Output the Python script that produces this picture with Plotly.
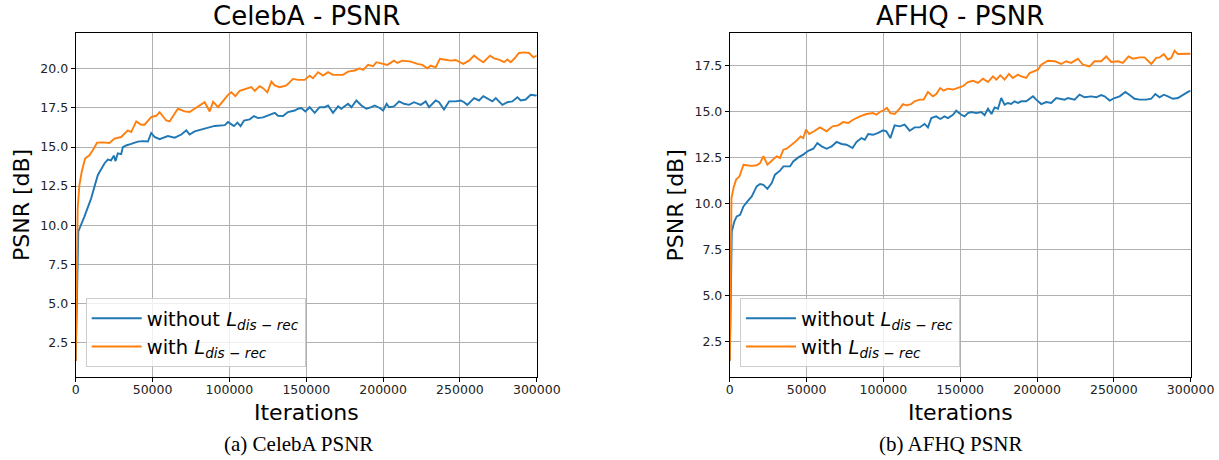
import plotly.graph_objects as go

# ---------------- data ----------------
celeba_without_x = [0, 1700, 5650, 10000, 14350, 18700, 20900, 23000, 24800, 25900, 27400, 29600,
                    30700, 32800, 36100, 40400, 43700, 47000, 49100, 51300, 54600, 60000, 64400,
                    68700, 72000, 74100, 77400, 83900, 90400, 97000, 99100, 101300, 103000, 105200,
                    107300, 109500, 113200, 116000, 118600, 121900, 125100, 129500, 131600, 134900,
                    138100, 142500, 144700, 146800, 149400, 152200, 155500, 158700, 162000, 164200,
                    167400, 170700, 172800, 177200, 179400, 182600, 185900, 189100, 192400, 194500,
                    197800, 200000, 202300, 203900, 207100, 210400, 213600, 216900, 220100, 224500,
                    227700, 229900, 234200, 236400, 239600, 242900, 247200, 250500, 252700, 254800,
                    259200, 262400, 265200, 267800, 271100, 273300, 277600, 280900, 284100, 287400,
                    289500, 292800, 296000, 299300, 300000]
celeba_without_y = [1.3, 9.6, 10.55, 11.7, 13.2, 13.95, 14.2, 14.15, 14.45, 14.1, 14.6, 14.55,
                    15.0, 15.1, 15.2, 15.35, 15.38, 15.35, 15.9, 15.65, 15.5, 15.7, 15.6,
                    15.8, 16.07, 15.8, 16.0, 16.2, 16.35, 16.4, 16.6, 16.45, 16.34, 16.56,
                    16.34, 16.7, 16.77, 16.98, 16.85, 16.9, 17.02, 17.19, 17.0, 16.98,
                    17.24, 17.34, 17.45, 17.5, 17.28, 17.55, 17.19, 17.55, 17.55, 17.66,
                    17.19, 17.6, 17.45, 17.77, 17.55, 17.98, 17.66, 17.45, 17.55, 17.66,
                    17.5, 17.34, 17.77, 17.55, 17.6, 17.92, 17.77, 17.7, 17.87, 17.7,
                    17.92, 17.55, 17.98, 17.87, 17.4, 17.92, 17.92, 17.98, 17.87, 17.7,
                    18.13, 17.98, 18.26, 18.09, 17.92, 18.13, 17.7, 17.87, 17.92, 18.19,
                    17.98, 18.04, 18.34, 18.3, 18.32]

celeba_with_x = [0, 1300, 2400, 3900, 6100, 8900, 11100, 13900, 17600, 22000, 25200, 29600,
                 33900, 36100, 39400, 42600, 44800, 49100, 52400, 54600, 58900, 61100, 66500,
                 70900, 74100, 78500, 83900, 87200, 89400, 92600, 99100, 101300, 103900, 106700,
                 111000, 114300, 116500, 119700, 121900, 124700, 127300, 129500, 132700, 137100,
                 141400, 144700, 149000, 152200, 154400, 157700, 160900, 164200, 167400, 170700,
                 173900, 177200, 181500, 184800, 187000, 190200, 193500, 195600, 198900, 200600,
                 202800, 207100, 209300, 212500, 218000, 222300, 225500, 228800, 231000, 234200,
                 237000, 239600, 244000, 247200, 249400, 252200, 255900, 259200, 262400, 265200,
                 269600, 272200, 275400, 278700, 280900, 283000, 285600, 288400, 291700, 295000,
                 297800, 300000]
celeba_with_y = [1.3, 11.07, 12.56, 13.4, 14.26, 14.47, 14.8, 15.28, 15.3, 15.26, 15.54, 15.64,
                 16.07, 15.96, 16.64, 16.43, 16.43, 16.92, 17.0, 17.23, 16.7, 16.64, 17.45,
                 17.28, 17.24, 17.5, 17.87, 17.28, 17.9, 17.55, 18.34, 18.5, 18.26, 18.6,
                 18.72, 18.83, 18.6, 18.9, 18.77, 18.5, 19.19, 18.94, 18.83, 18.94,
                 19.36, 19.3, 19.3, 19.57, 19.4, 19.79, 19.57, 19.79, 19.62, 19.64,
                 19.62, 19.83, 19.9, 20.04, 19.94, 20.26, 20.17, 20.43, 20.36, 20.32,
                 20.26, 20.53, 20.38, 20.53, 20.47, 20.32, 20.26, 20.04, 20.21, 20.1,
                 20.64, 20.6, 20.53, 20.57, 20.47, 20.32, 20.53, 20.85, 20.6, 20.43,
                 20.85, 20.68, 20.6, 20.43, 20.6, 20.43, 20.68, 21.02, 21.06, 21.02,
                 20.74, 20.85]

afhq_without_x = [0, 1300, 3000, 4500, 6700, 8900, 11500, 14300, 17500, 19700, 21900, 24500,
                  27300, 29400, 32700, 34900, 39200, 41300, 44600, 47800, 51100, 54400, 57000,
                  59800, 63000, 66300, 69500, 72800, 76000, 79900, 82500, 85700, 87900, 90100,
                  93300, 96600, 99800, 101900, 104500, 107300, 110600, 113800, 117100, 120300,
                  123600, 126800, 129000, 131200, 134400, 137000, 139800, 142000, 145300, 147400,
                  150700, 152900, 155000, 157200, 160500, 163700, 165900, 168100, 170400, 172400,
                  174600, 176700, 178900, 181100, 183200, 185400, 187600, 189800, 193000, 195200,
                  197400, 199500, 200600, 202800, 206000, 209300, 212500, 215800, 218000, 220100,
                  224500, 227700, 231000, 235300, 238600, 241800, 244000, 247300, 250500, 253800,
                  257500, 260300, 263500, 266800, 271100, 274400, 277000, 279800, 282600, 285200,
                  288500, 291700, 295000, 298300, 300000]
afhq_without_y = [1.45, 8.48, 9.03, 9.3, 9.39, 9.84, 10.12, 10.39, 10.93, 11.06, 11.02, 10.8,
                  11.11, 11.57, 11.79, 12.02, 12.02, 12.29, 12.51, 12.66, 12.87, 12.98, 13.29,
                  13.11, 12.98, 13.11, 13.35, 13.24, 13.2, 13.02, 13.35, 13.56, 13.47, 13.78,
                  13.74, 13.84, 13.98, 13.93, 13.56, 14.25, 14.2, 14.29, 13.96, 14.14,
                  14.14, 14.33, 14.14, 14.65, 14.74, 14.6, 14.74, 14.65, 14.83, 15.05,
                  14.83, 14.74, 14.92, 14.98, 14.92, 14.98, 14.8, 15.16, 14.87, 15.23,
                  15.16, 15.74, 15.38, 15.47, 15.42, 15.56, 15.47, 15.56, 15.56, 15.7,
                  15.83, 15.65, 15.56, 15.41, 15.52, 15.47, 15.74, 15.7, 15.65, 15.74,
                  15.65, 15.92, 15.78, 15.83, 15.78, 15.9, 15.83, 15.6, 15.74, 15.83,
                  16.07, 15.9, 15.7, 15.65, 15.65, 15.7, 15.96, 15.78, 15.92, 15.83,
                  15.7, 15.74, 15.92, 16.07, 16.14]

afhq_with_x = [0, 1100, 2400, 4100, 6300, 8900, 11000, 14300, 17500, 19700, 21900, 24500,
               27300, 30500, 32700, 34900, 37000, 40300, 43500, 46100, 47800, 49600, 51700,
               54800, 58700, 63000, 66900, 70600, 73800, 77100, 80300, 84700, 89000, 93300,
               95500, 97600, 99700, 102300, 104500, 107300, 110600, 112700, 114900, 118100,
               120300, 123600, 126200, 129000, 132300, 134400, 137000, 139200, 142000, 145300,
               148500, 151800, 155000, 158300, 161500, 164800, 168100, 171300, 173500, 176100,
               178900, 181700, 184300, 187600, 189800, 193000, 195200, 198400, 200600, 202800,
               207100, 211500, 215800, 219000, 222300, 226600, 229900, 234200, 237500, 241800,
               245100, 248300, 252700, 255900, 259600, 262400, 266800, 270000, 274400, 277600,
               279800, 282600, 285200, 287400, 289600, 291700, 296100, 300000]
afhq_with_y = [1.45, 10.3, 10.84, 11.3, 11.48, 12.11, 12.08, 12.05, 12.08, 12.2, 12.57, 12.11,
               12.33, 12.57, 12.48, 12.93, 12.98, 13.2, 13.42, 13.65, 13.56, 14.02, 13.78,
               13.93, 14.14, 13.93, 14.2, 14.25, 14.43, 14.38, 14.56, 14.74, 14.87, 14.92,
               14.83, 14.98, 15.05, 15.2, 14.92, 14.87, 15.16, 15.41, 15.34, 15.41,
               15.56, 15.65, 15.65, 16.07, 15.83, 15.96, 16.28, 16.14, 16.25, 16.2,
               16.28, 16.38, 16.61, 16.68, 16.56, 16.79, 16.61, 16.92, 16.74, 16.97,
               16.74, 17.05, 16.83, 17.01, 16.92, 16.83, 17.1, 17.23, 17.28, 17.55,
               17.77, 17.74, 17.59, 17.74, 17.65, 17.88, 17.55, 17.46, 17.74, 17.74,
               18.0, 17.7, 17.74, 17.65, 18.0, 17.88, 17.95, 17.95, 17.59, 17.92,
               17.95, 18.13, 17.83, 17.92, 18.32, 18.13, 18.13, 18.15]

x_tick_vals = [0, 50000, 100000, 150000, 200000, 250000, 300000]
x_tick_text = ["0", "50000", "100000", "150000", "200000", "250000", "300000"]
celeba_y_ticks = [2.5, 5.0, 7.5, 10.0, 12.5, 15.0, 17.5, 20.0]
afhq_y_ticks = [2.5, 5.0, 7.5, 10.0, 12.5, 15.0, 17.5]

titles = ["CelebA - PSNR", "AFHQ - PSNR"]
captions = ["(a) CelebA PSNR", "(b) AFHQ PSNR"]
label_without = "without <i>L</i><sub><i>dis − rec</i></sub>"
label_with = "with <i>L</i><sub><i>dis − rec</i></sub>"

# ---------------- figure ----------------
W, H = 1219, 460
BLUE = "#1f77b4"
ORANGE = "#ff7f0e"
FONT = "DejaVu Sans"

def px(x):
    return x / W

def py(y):
    return 1 - y / H

fig = go.Figure()
lw = 1.9
fig.add_trace(go.Scatter(x=celeba_without_x, y=celeba_without_y, mode="lines", name=label_without,
                         line=dict(color=BLUE, width=lw), xaxis="x", yaxis="y",
                         legend="legend", legendgroup="a"))
fig.add_trace(go.Scatter(x=celeba_with_x, y=celeba_with_y, mode="lines", name=label_with,
                         line=dict(color=ORANGE, width=lw), xaxis="x", yaxis="y",
                         legend="legend", legendgroup="b"))
fig.add_trace(go.Scatter(x=afhq_without_x, y=afhq_without_y, mode="lines", name=label_without,
                         line=dict(color=BLUE, width=lw), xaxis="x2", yaxis="y2",
                         legend="legend2", legendgroup="c"))
fig.add_trace(go.Scatter(x=afhq_with_x, y=afhq_with_y, mode="lines", name=label_with,
                         line=dict(color=ORANGE, width=lw), xaxis="x2", yaxis="y2",
                         legend="legend2", legendgroup="d"))

y_dom = [py(376.7), py(33.3)]
x1_dom = [px(75.7), px(536.8)]
x2_dom = [px(729.8), px(1190.6)]

axis_common = dict(showline=True, mirror=True, linecolor="black", linewidth=1,
                   showgrid=True, gridcolor="#b0b0b0", gridwidth=1, automargin=False,
                   ticks="outside", ticklen=4, tickcolor="black", tickwidth=1,
                   tickfont=dict(family=FONT, size=12.5, color="#222"), zeroline=False)

legend_common = dict(xanchor="left", yanchor="top",
                     bgcolor="rgba(255,255,255,0.8)", bordercolor="#cccccc", borderwidth=1,
                     font=dict(family=FONT, size=19.5, color="black"),
                     tracegroupgap=4, itemwidth=50, traceorder="normal")

fig.update_layout(
    width=W, height=H,
    margin=dict(l=0, r=0, t=0, b=0, pad=0),
    paper_bgcolor="white", plot_bgcolor="white",
    font=dict(family=FONT, color="black"),
    xaxis=dict(domain=x1_dom, range=[0, 300000], anchor="y", tickvals=x_tick_vals,
               ticktext=x_tick_text, ticklabelstandoff=-3, **axis_common),
    yaxis=dict(domain=y_dom, range=[0.30, 22.28], anchor="x", tickvals=celeba_y_ticks,
               tickformat=".1f", **axis_common),
    xaxis2=dict(domain=x2_dom, range=[0, 300000], anchor="y2", tickvals=x_tick_vals,
                ticktext=x_tick_text, ticklabelstandoff=-3, **axis_common),
    yaxis2=dict(domain=y_dom, range=[0.58, 19.26], anchor="x2", tickvals=afhq_y_ticks,
                tickformat=".1f", **axis_common),
    legend=dict(x=px(85.7), y=py(298), **legend_common),
    legend2=dict(x=px(740), y=py(298), **legend_common),
)

centers = [(75.7 + 536.8) / 2, (729.8 + 1190.6) / 2]
ylabel_x = [21, 675.4]
caption_x = [298, 951]
annotations = []
for i in range(2):
    annotations.append(dict(text=titles[i], x=px(centers[i]), y=py(16), xref="paper", yref="paper",
                            xanchor="center", yanchor="middle", showarrow=False,
                            font=dict(family=FONT, size=26, color="black")))
    annotations.append(dict(text="Iterations", x=px(centers[i]), y=py(412), xref="paper", yref="paper",
                            xanchor="center", yanchor="middle", showarrow=False,
                            font=dict(family=FONT, size=22, color="black")))
    annotations.append(dict(text="PSNR [dB]", x=px(ylabel_x[i]), y=py(205), xref="paper", yref="paper",
                            xanchor="center", yanchor="middle", showarrow=False, textangle=-90,
                            font=dict(family=FONT, size=22, color="black")))
    annotations.append(dict(text=captions[i], x=px(caption_x[i]), y=py(444),
                            xref="paper", yref="paper",
                            xanchor="center", yanchor="middle", showarrow=False,
                            font=dict(family="Liberation Serif", size=21, color="black")))
fig.update_layout(annotations=annotations)

fig.write_html("out.html")
